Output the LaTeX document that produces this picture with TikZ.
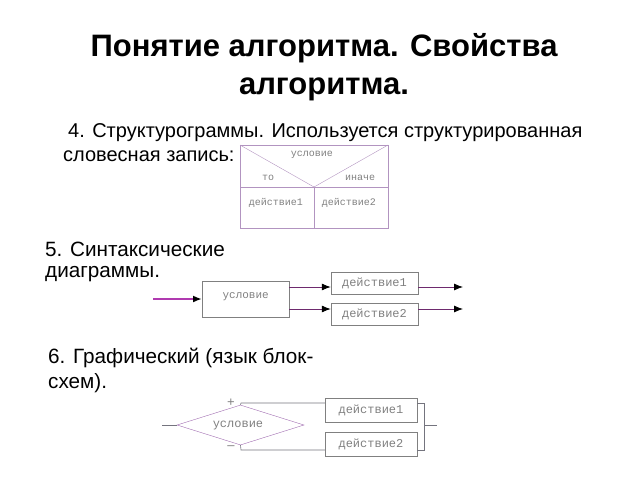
\documentclass[tikz,border=0pt]{standalone}
\usepackage{fontspec}
\setmainfont{Liberation Sans}
\setmonofont{Liberation Mono}
\usetikzlibrary{arrows.meta,shapes.geometric}
\definecolor{framecol}{HTML}{B294C0}
\definecolor{flowcol}{HTML}{6E2A6E}
\definecolor{incol}{HTML}{B03AB0}
\definecolor{greycol}{HTML}{74747E}
\definecolor{diacol}{HTML}{A06CB0}
\begin{document}
\begin{tikzpicture}
  [x=1pt,y=-1pt,
  title/.style={font=\fontsize{31}{35}\selectfont\bfseries,inner sep=0pt,anchor=base},
  body/.style={font=\fontsize{20}{24}\selectfont,inner sep=0pt,anchor=base west},
  lbl/.style={font=\fontsize{10}{12}\selectfont\ttfamily,text=gray,inner sep=0pt},
  lblbig/.style={font=\fontsize{12}{14}\selectfont\ttfamily,text=gray,inner sep=0pt},
  sbox/.style={draw=gray,fill=white,inner sep=0pt,minimum width=87,minimum height=22},
  flow/.style={flowcol,thick,-{Latex[length=9pt,width=7pt,color=black]}},
  line6/.style={greycol,line width=0.6pt}]
  \useasboundingbox (0,0) rectangle (640,480);
  % title
  \node[title] (t1) at (324,56) {Понятие алгоритма. Свойства};
  \node[title] (t2) at (324,94) {алгоритма.};
  % 4. structurogram
  \node[body] (p4a) at (68,137) {4. Структурограммы. Используется структурированная};
  \node[body] (p4b) at (63,161) {словесная запись:};
  \coordinate (tl) at (240,145);
  \coordinate (tr) at (388,145);
  \coordinate (bl) at (240,228);
  \coordinate (br) at (388,228);
  \coordinate (ml) at (240,187);
  \coordinate (mr) at (388,187);
  \coordinate (mc) at (314,187);
  \coordinate (mb) at (314,228);
  \draw[framecol] (tl) rectangle (br);
  \draw[framecol] (ml) -- (mr);
  \draw[framecol] (mc) -- (mb);
  \draw[framecol] (tl) -- (mc) -- (tr);
  \node[lbl] (cond4) at (312,155) {условие};
  \node[lbl] (then4) at (268,178) {то};
  \node[lbl] (else4) at (360,178) {иначе};
  \node[lbl] (act41) at (276,203) {действие1};
  \node[lbl] (act42) at (349,203) {действие2};
  % 5. syntax diagram
  \node[body,font=\fontsize{20.7}{24}\selectfont] (p5a) at (45,256) {5. Синтаксические};
  \node[body,font=\fontsize{20.7}{24}\selectfont] (p5b) at (45,277) {диаграммы.};
  \node[sbox,minimum height=36,font=\fontsize{11}{13}\selectfont\ttfamily,text=gray,anchor=north west]
    (cond5) at (202,281) {\raisebox{8pt}{условие}};
  \node[sbox,font=\fontsize{12}{14}\selectfont\ttfamily,text=gray] (act51) at (374.5,283) {действие1};
  \node[sbox,font=\fontsize{12}{14}\selectfont\ttfamily,text=gray] (act52) at (374.5,314.5) {действие2};
  \coordinate (in5) at (153,299);
  \coordinate (out51) at (463,287);
  \coordinate (out52) at (463,309);
  \draw[incol,line width=1.8pt,-{Latex[length=9pt,width=7pt,color=black]}] (in5) -- (cond5.west |- in5);
  \draw[flow] (cond5.east |- out51) -- (act51.west |- out51);
  \draw[flow] (cond5.east |- out52) -- (act52.west |- out52);
  \draw[flow] (act51.east |- out51) -- (out51);
  \draw[flow] (act52.east |- out52) -- (out52);
  % 6. flowchart
  \node[body,font=\fontsize{20.7}{24}\selectfont] (p6a) at (48,363) {6. Графический (язык блок-};
  \node[body,font=\fontsize{20.7}{24}\selectfont] (p6b) at (48,388) {схем).};
  \node[diamond,draw=diacol,inner sep=0pt,minimum width=127,minimum height=40] (cond6) at (240.5,425) {};
  \node[lblbig] (cond6t) at (238,426) {условие};
  \node[sbox,minimum width=92,minimum height=24,font=\fontsize{12}{14}\selectfont\ttfamily,text=gray] (act61) at (371,410) {действие1};
  \node[sbox,minimum width=92,minimum height=24,font=\fontsize{12}{14}\selectfont\ttfamily,text=gray] (act62) at (371,444) {действие2};
  \coordinate (tp) at (241,403);
  \coordinate (bt) at (241,450);
  \coordinate (rt) at (424,403);
  \coordinate (rb) at (424,450);
  \coordinate (in6) at (162,425);
  \coordinate (out6) at (437,425);
  \draw[line6] (cond6.north) -- (tp) -- (act61.west |- tp);
  \draw[line6] (act61.east |- rt) -- (rt) -- (rb) -- (act62.east |- rb);
  \draw[line6] (cond6.south) -- (bt) -- (act62.west |- bt);
  \draw[line6] (in6) -- (cond6.west);
  \draw[line6] (rt |- out6) -- (out6);
  \node[font=\fontsize{13}{15}\selectfont,text=gray,inner sep=0pt] (plus6) at (231,403) {+};
  \node[font=\fontsize{13}{15}\selectfont,text=gray,inner sep=0pt] (minus6) at (231,448) {–};
\end{tikzpicture}
\end{document}
